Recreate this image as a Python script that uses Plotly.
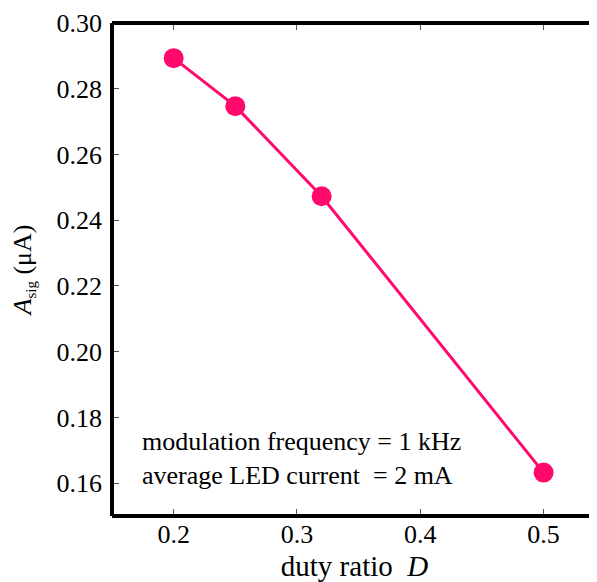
import plotly.graph_objects as go

duty_ratio = [0.2, 0.25, 0.32, 0.5]
a_sig = [0.2893, 0.2747, 0.2473, 0.1632]
x_ticks = [0.2, 0.3, 0.4, 0.5]
y_ticks = [0.16, 0.18, 0.20, 0.22, 0.24, 0.26, 0.28, 0.30]

color = "#FF0A6C"
font_family = "Liberation Serif, Times New Roman, serif"

fig = go.Figure()
fig.add_trace(go.Scatter(
    x=duty_ratio, y=a_sig, mode="lines+markers",
    line=dict(color=color, width=3),
    marker=dict(color=color, size=20),
    showlegend=False,
))

fig.update_layout(
    width=589, height=574,
    margin=dict(l=104, r=0, t=15, b=66),
    paper_bgcolor="white", plot_bgcolor="white",
    font=dict(family=font_family, size=26, color="black"),
    xaxis=dict(
        range=[0.15, 0.5433], tickvals=x_ticks, ticktext=[f"{v:.1f}" for v in x_ticks],
        ticks="inside", ticklen=7, tickwidth=1, tickcolor="#555",
        mirror="ticks", showline=False, showgrid=False, zeroline=False,
        automargin=False,
        title=dict(text="duty ratio  <i>D</i>", standoff=12, font=dict(size=29)),
    ),
    yaxis=dict(
        range=[0.15, 0.30], tickvals=y_ticks, ticktext=[f"{v:.2f}" for v in y_ticks],
        ticks="inside", ticklen=7, tickwidth=1, tickcolor="#555",
        mirror="ticks", showline=False, showgrid=False, zeroline=False,
        automargin=False, ticklabelstandoff=9,
        title=dict(text="<i>A</i><sub><span style='font-size:15px'>sig</span></sub> (μA)",
                   standoff=20, font=dict(size=26)),
    ),
)

for x0, y0, x1, y1 in [(0, 0, 0, 1), (0, 1, 1, 1), (0, 0, 1, 0)]:
    fig.add_shape(type="line", xref="paper", yref="paper", x0=x0, y0=y0, x1=x1, y1=y1,
                  line=dict(color="black", width=4))

fig.add_annotation(
    xref="paper", yref="paper", x=0.0577, y=0.1176, xanchor="left", yanchor="middle",
    text="modulation frequency = 1 kHz<br>average LED current  = 2 mA",
    showarrow=False, align="left", font=dict(size=26, family=font_family),
)

fig.write_html("out.html")
